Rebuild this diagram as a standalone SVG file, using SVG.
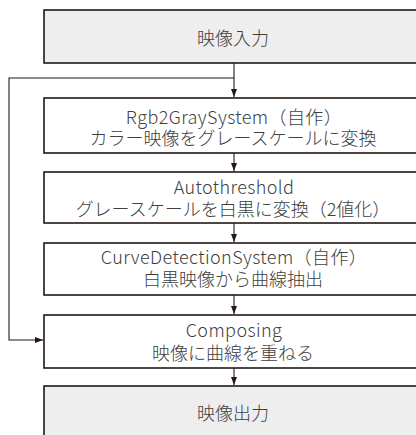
<svg xmlns="http://www.w3.org/2000/svg" width="416" height="435" viewBox="0 0 416 435">
<style>
.box{fill:#ffffff;stroke:#231815;stroke-width:1.6}
.io{fill:#eeeeee;stroke:#231815;stroke-width:1.6}
.t{font-family:"Noto Sans CJK JP","Noto Sans",sans-serif;font-size:18px;font-weight:300;fill:#404040;text-anchor:middle}
.l{letter-spacing:0.4px}
.c{fill:none;stroke:#231815;stroke-width:1.1}
</style>
<defs>
<marker id="ah" markerWidth="8" markerHeight="8" viewBox="0 0 8 8" refX="8" refY="4" orient="auto" markerUnits="userSpaceOnUse">
<path d="M0,1 L8,4 L0,7 Z" fill="#231815"/>
</marker>
</defs>
<g id="n1"><rect class="io" x="44" y="10" width="390" height="53"/><text class="t" x="233" y="45">映像入力</text></g>
<g id="n2"><rect class="box" x="44" y="98" width="390" height="55"/><text class="t l" x="234" y="124">Rgb2GraySystem（自作）</text><text class="t" x="233" y="145">カラー映像をグレースケールに変換</text></g>
<g id="n3"><rect class="box" x="44" y="172" width="390" height="51"/><text class="t l" x="234" y="194">Autothreshold</text><text class="t" x="233" y="216">グレースケールを白黒に変換（2値化）</text></g>
<g id="n4"><rect class="box" x="44" y="243" width="390" height="52"/><text class="t l" x="234" y="264">CurveDetectionSystem（自作）</text><text class="t" x="233" y="286">白黒映像から曲線抽出</text></g>
<g id="n5"><rect class="box" x="44" y="315" width="390" height="53"/><text class="t l" x="234" y="337">Composing</text><text class="t" x="233" y="360">映像に曲線を重ねる</text></g>
<g id="n6"><rect class="io" x="44" y="386" width="390" height="60"/><text class="t" x="233" y="420">映像出力</text></g>
<g id="connectors">
<path class="c" d="M234,63 V97" marker-end="url(#ah)"/>
<path class="c" d="M234,78 H9 V340 H43" marker-end="url(#ah)"/>
<path class="c" d="M234,153 V171" marker-end="url(#ah)"/>
<path class="c" d="M234,223 V242" marker-end="url(#ah)"/>
<path class="c" d="M234,295 V314" marker-end="url(#ah)"/>
<path class="c" d="M234,368 V385" marker-end="url(#ah)"/>
</g>
</svg>
